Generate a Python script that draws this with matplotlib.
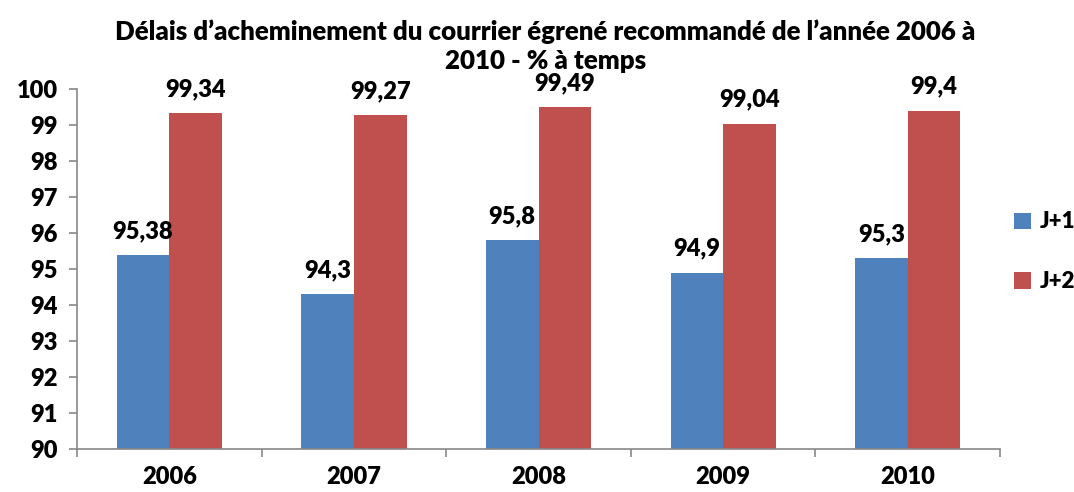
import matplotlib
matplotlib.use("Agg")
import matplotlib.pyplot as plt
import numpy as np

years = ["2006", "2007", "2008", "2009", "2010"]
j1 = [95.38, 94.3, 95.8, 94.9, 95.3]
j2 = [99.34, 99.27, 99.49, 99.04, 99.4]
j1_labels = ["95,38", "94,3", "95,8", "94,9", "95,3"]
j2_labels = ["99,34", "99,27", "99,49", "99,04", "99,4"]
series_names = ["J+1", "J+2"]
yticks = list(range(90, 101))

plt.rcParams['font.family'] = ['Lato', 'DejaVu Sans']
WEIGHT = 'heavy'
plt.rcParams['font.weight'] = WEIGHT
FS = 17

fig = plt.figure(figsize=(10.74, 4.92), dpi=100)
ax = fig.add_axes([0.0717, 0.0874, 0.8595, 0.7316])

x = np.arange(len(years))
w = 0.285
blue = "#4F81BD"
red = "#C0504D"
b1 = ax.bar(x - w / 2, [v - 90 for v in j1], w, bottom=90, color=blue, label=series_names[0])
b2 = ax.bar(x + w / 2, [v - 90 for v in j2], w, bottom=90, color=red, label=series_names[1])

for xi, v, s in zip(x, j1, j1_labels):
    ax.text(xi - w / 2, v + 0.47, s, ha='center', va='baseline', fontsize=FS, fontweight=WEIGHT)
for xi, v, s in zip(x, j2, j2_labels):
    ax.text(xi + w / 2, v + 0.47, s, ha='center', va='baseline', fontsize=FS, fontweight=WEIGHT)

ax.set_xlim(-0.5, len(years) - 0.5)
ax.set_ylim(90, 100)
ax.set_yticks(yticks)
ax.set_yticklabels([str(t) for t in yticks], fontsize=FS, fontweight=WEIGHT)
ax.set_xticks(x)
ax.set_xticklabels(years, fontsize=FS, fontweight=WEIGHT)
ax.tick_params(axis='x', length=0, pad=12)
ax.set_xticks(np.arange(len(years) + 1) - 0.5, minor=True)
ax.tick_params(axis='x', which='minor', length=6, color='#888888', width=1.2)
ax.tick_params(axis='y', length=6, color='#888888', width=1.2, pad=8)

for side in ['top', 'right']:
    ax.spines[side].set_visible(False)
for side in ['left', 'bottom']:
    ax.spines[side].set_color('#888888')
    ax.spines[side].set_linewidth(1.2)

fig.text(0.508, 0.96, "Délais d\u2019acheminement du courrier égrené recommandé de l\u2019année 2006 à\n2010 - % à temps",
         ha='center', va='top', fontsize=18.6, fontweight=WEIGHT, linespacing=1.25)

leg = fig.legend(handles=[b1, b2], labels=series_names, loc='center left',
                 bbox_to_anchor=(0.944, 0.488), frameon=False, fontsize=16,
                 handlelength=0.75, handleheight=0.75, handletextpad=0.4, labelspacing=1.75,
                 borderpad=0, borderaxespad=0)
for t in leg.get_texts():
    t.set_fontweight(WEIGHT)

fig.savefig("out.png", dpi=100)
